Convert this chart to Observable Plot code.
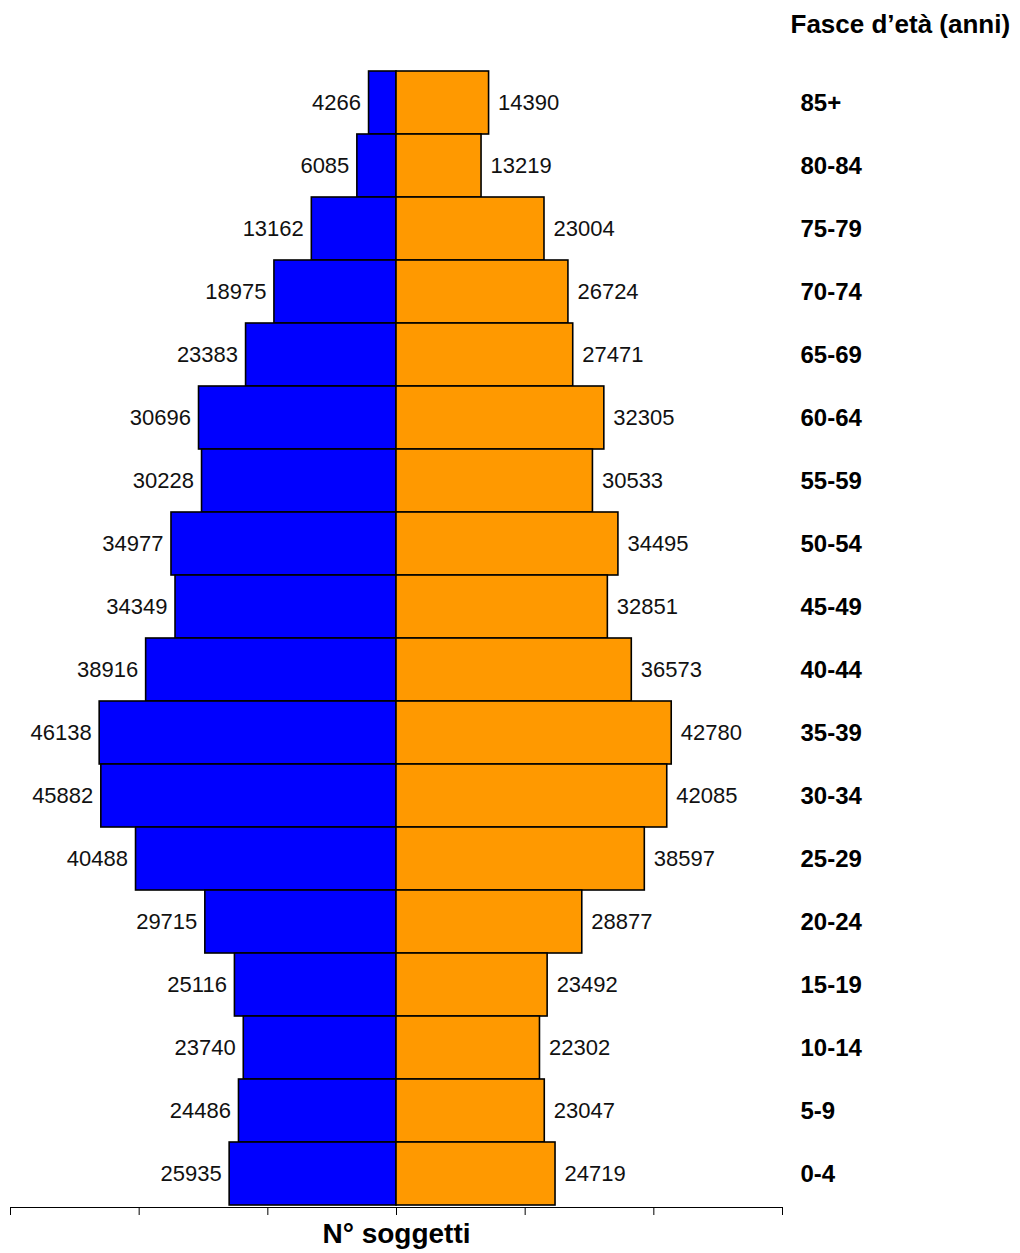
<!DOCTYPE html>
<html>
<head>
<meta charset="utf-8">
<script src="https://cdn.jsdelivr.net/npm/d3@7"></script>
<script src="https://cdn.jsdelivr.net/npm/@observablehq/plot@0.6"></script>
<style>
  html, body { margin: 0; padding: 0; background: #fff; }
  #chart svg { display: block; font-family: "Liberation Sans", Arial, sans-serif; }
</style>
</head>
<body>
<div id="chart"></div>
<script>
// Fasce d'età, dalla più anziana alla più giovane (ordine dall'alto in basso)
const fasce = ["85+", "80-84", "75-79", "70-74", "65-69", "60-64", "55-59", "50-54",
  "45-49", "40-44", "35-39", "30-34", "25-29", "20-24", "15-19", "10-14", "5-9", "0-4"];
// Soggetti per fascia: maschi (sinistra) e femmine (destra)
const maschi = [4266, 6085, 13162, 18975, 23383, 30696, 30228, 34977,
  34349, 38916, 46138, 45882, 40488, 29715, 25116, 23740, 24486, 25935];
const femmine = [14390, 13219, 23004, 26724, 27471, 32305, 30533, 34495,
  32851, 36573, 42780, 42085, 38597, 28877, 23492, 22302, 23047, 24719];
const xTicks = [-60000, -40000, -20000, 0, 20000, 40000, 60000];

const rows = fasce.map((fascia, i) => ({fascia, maschi: maschi[i], femmine: femmine[i]}));

const chart = Plot.plot({
  width: 1020,
  height: 1253,
  marginTop: 69,
  marginBottom: 46,
  marginLeft: 10,
  marginRight: 238,
  style: {fontFamily: "'Liberation Sans', Arial, sans-serif", background: "#fff"},
  x: {domain: [-60000, 60000]},
  y: {domain: fasce, padding: 0},
  marks: [
    Plot.barX(rows, {y: "fascia", x1: 0, x2: d => -d.maschi, fill: "#0000ff", stroke: "#000", strokeWidth: 1.6}),
    Plot.barX(rows, {y: "fascia", x1: 0, x2: "femmine", fill: "#ff9900", stroke: "#000", strokeWidth: 1.6}),
    Plot.text(rows, {y: "fascia", x: d => -d.maschi, text: d => String(d.maschi), textAnchor: "end", dx: -8,
      fontSize: 22, fill: "#111"}),
    Plot.text(rows, {y: "fascia", x: "femmine", text: d => String(d.femmine), textAnchor: "start", dx: 9,
      fontSize: 22, fill: "#111"}),
    Plot.frame({anchor: "bottom", stroke: "#000", strokeWidth: 1}),
    Plot.axisX({ticks: xTicks, tickFormat: () => "", tickSize: 8, label: null, stroke: "#000"}),
    Plot.axisY({anchor: "right", tickSize: 0, tickPadding: 18, label: null,
      fontSize: 24, fontWeight: "bold", fill: "#000"}),
    Plot.text(["Fasce d\u2019età (anni)"], {frameAnchor: "top-right", textAnchor: "start", lineAnchor: "middle",
      dx: 8, dy: -45, fontSize: 26, fontWeight: "bold", fill: "#000"}),
    Plot.text(["N° soggetti"], {frameAnchor: "bottom", lineAnchor: "middle", dy: 27,
      fontSize: 28, fontWeight: "bold", fill: "#000"})
  ]
});
document.getElementById("chart").append(chart);
</script>
</body>
</html>
